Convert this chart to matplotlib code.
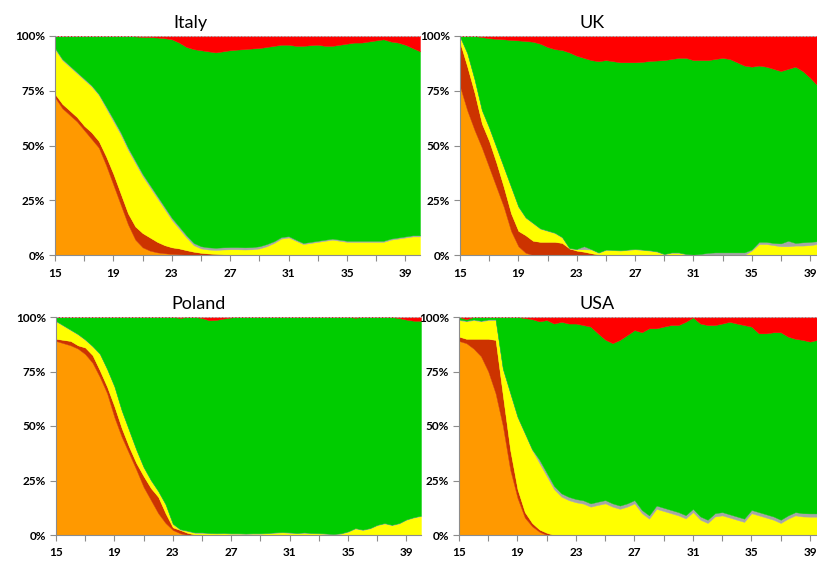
import numpy as np
import matplotlib
matplotlib.use("Agg")
import matplotlib.pyplot as plt

plt.rcParams['font.family'] = ['Lato', 'DejaVu Sans']

# age axis (half-year steps)
ages = np.arange(15, 40.01, 0.5)

# upper edge (cumulative %) of each band, bottom to top:
# orange, dark red, yellow, grey, green; red fills up to 100%
italy_orange = [72, 67, 64, 61, 57, 53, 49, 41, 32, 23, 14, 7, 3.5, 2, 1.2, 0.8, 0.5, 0.3, 0.2, 0.1,
                0, 0, 0, 0, 0, 0, 0, 0, 0, 0, 0, 0, 0, 0, 0, 0, 0, 0, 0, 0, 0, 0, 0, 0, 0, 0, 0, 0, 0, 0, 0]
italy_darkred = [73.5, 69, 66, 63, 59, 56, 52, 45, 37, 28, 19, 13, 10, 8, 6, 4.5, 3.5, 3, 2.2, 1.5,
                 1, 0.7, 0.5, 0.3, 0.1, 0, 0, 0, 0, 0, 0, 0, 0, 0, 0, 0, 0, 0, 0, 0, 0, 0, 0, 0, 0, 0, 0, 0, 0, 0, 0]
italy_yellow = [94, 89, 86, 83, 80, 77, 73, 67, 61, 55, 48, 42, 36, 31, 26, 21, 16, 12, 8, 4.5,
                3, 2.5, 2.3, 2.5, 2.6, 2.6, 2.5, 2.6, 3, 4, 5.5, 7.5, 8, 6.5, 5, 5.5, 6, 6.5, 7, 6.5,
                6, 6, 6, 6, 6, 6, 7, 7.5, 8, 8.5, 8.5]
italy_grey = [94.5, 89.5, 86.5, 83.5, 80.5, 77.5, 73.5, 67.8, 62, 56, 49, 43, 37, 32, 27, 22, 17, 13, 9, 5.5,
              4, 3.5, 3.3, 3.5, 3.6, 3.6, 3.5, 3.6, 4, 5, 6.3, 8.2, 8.6, 7, 5.5, 6, 6.5, 7, 7.5, 7,
              6.5, 6.5, 6.5, 6.5, 6.5, 6.5, 7.5, 8, 8.5, 9, 9]
italy_green = [100, 100, 100, 100, 100, 100, 100, 100, 100, 100, 100, 99.8, 99.6, 99.5, 99.3, 99, 98.5, 97, 95, 94,
               93.5, 93, 92.5, 93, 93.5, 93.8, 94, 94.3, 94.5, 95, 95.5, 96, 96, 95.5, 95.5, 95.8, 96, 95.5, 95.5, 96,
               96.5, 97, 97, 97.5, 98, 98.5, 97.5, 97, 96, 94.5, 93]

uk_orange = [77, 66, 57, 49, 40, 31, 22, 11, 4, 1, 0, 0, 0, 0, 0, 0, 0, 0, 0, 0,
             0, 0, 0, 0, 0, 0, 0, 0, 0, 0, 0, 0, 0, 0, 0, 0, 0, 0, 0, 0, 0, 0, 0, 0, 0, 0, 0, 0, 0, 0, 0]
uk_darkred = [97, 86, 74, 60, 52, 42, 31, 19, 11, 9, 6.5, 6, 6, 6, 5.5, 3, 2, 1.5, 0.8, 0.2,
              0, 0, 0, 0, 0, 0, 0, 0, 0, 0, 0, 0, 0, 0, 0, 0, 0, 0, 0, 0, 0, 0, 0, 0, 0, 0, 0, 0, 0, 0, 0]
uk_yellow = [99.5, 92, 80, 66, 58, 49, 40, 31, 22, 17, 14.5, 12, 11, 10, 8, 3, 2.6, 2.6, 2.5, 1,
             2.3, 2.2, 2, 2.3, 2.6, 2.3, 2, 1.5, 0.3, 1, 1, 0.3, 0, 0, 0, 0, 0, 0, 0, 0,
             2, 5, 5, 4.5, 4, 4, 4.3, 4.3, 4.5, 5, 5]
uk_grey = [99.7, 92.2, 80.2, 66.2, 58.2, 49.2, 40.2, 31.2, 22.2, 17.2, 14.7, 12.2, 11.2, 10.2, 8.2, 3.2, 2.8, 4, 2.7, 1.2,
           2.5, 2.4, 2.2, 2.5, 2.8, 2.5, 2.2, 1.7, 0.5, 1.2, 1.2, 0.5, 0.2, 0.5, 1, 1.2, 1.2, 1.2, 1.2, 1.2,
           2.5, 6, 6, 5.5, 5.3, 6.5, 5.5, 5.8, 6, 6.3, 6.3]
uk_green = [100, 100, 100, 99.5, 99, 98.7, 98.5, 98.2, 98, 97.7, 97.4, 96.5, 95, 94, 93.6, 92.5, 91, 90, 89, 88.5,
            89, 88.5, 88, 88, 88, 88.2, 88.6, 88.8, 89, 89.5, 90, 90, 89, 89, 89, 89.5, 90, 89.5, 88, 86.5,
            86, 86.5, 86, 85, 84, 85, 86, 84, 81, 77.5, 77]

poland_orange = [89, 88, 87, 85.5, 83, 79, 72.5, 65, 54, 45, 37.5, 30, 22, 16, 10, 5.5, 2.3, 0.8, 0, 0,
                 0, 0, 0, 0, 0, 0, 0, 0, 0, 0, 0, 0, 0, 0, 0, 0, 0, 0, 0, 0, 0, 0, 0, 0, 0, 0, 0, 0, 0, 0, 0]
poland_darkred = [90, 89.5, 89, 87, 86, 82.5, 75.5, 68, 59, 49, 40.5, 33, 27, 21.5, 17.5, 10, 3.5, 2.3, 1, 0.2,
                  0, 0, 0, 0, 0, 0, 0, 0, 0, 0, 0, 0, 0, 0, 0, 0, 0, 0, 0, 0, 0, 0, 0, 0, 0, 0, 0, 0, 0, 0, 0]
poland_yellow = [98, 96, 94, 92, 89.5, 86.5, 83, 76, 68, 57, 48, 39, 31, 25, 20, 14, 5, 2.5, 1.8, 1,
                 1, 0.8, 0.7, 0.8, 0.6, 0.6, 0.5, 0.6, 0.6, 0.8, 1, 1.2, 1, 0.8, 1, 0.8, 0.7, 0.5, 0.3, 0.6,
                 1.5, 3, 2.3, 3, 4.5, 5.3, 4.5, 5.3, 7, 8, 8.7]
poland_grey = [98.2, 96.2, 94.2, 92.2, 89.7, 86.7, 83.2, 76.2, 68.2, 57.2, 48.2, 39.2, 31.2, 25.2, 20.2, 14.2, 5.2, 2.7, 2, 1.2,
               1.2, 1, 0.9, 1, 0.8, 0.8, 0.7, 0.8, 0.8, 1, 1.2, 1.4, 1.2, 1, 1.2, 1, 0.9, 0.7, 0.5, 0.8,
               1.7, 3.2, 2.5, 3.2, 4.7, 5.5, 4.7, 5.5, 7.2, 8.2, 8.9]
poland_green = [100, 100, 100, 100, 100, 100, 100, 100, 100, 100, 100, 100, 100, 100, 100, 100, 100, 99.6, 100, 100,
                99.5, 98.5, 98.7, 99.3, 99.8, 100, 100, 100, 100, 100, 100, 100, 100, 100, 100, 100, 100, 100, 100, 100,
                100, 99.7, 100, 100, 100, 100, 100, 99.5, 98.8, 98.3, 98.3]

usa_orange = [89, 88, 85.5, 82, 75, 65, 50, 30, 17, 8, 4, 1.5, 0, 0, 0, 0, 0, 0, 0, 0,
              0, 0, 0, 0, 0, 0, 0, 0, 0, 0, 0, 0, 0, 0, 0, 0, 0, 0, 0, 0, 0, 0, 0, 0, 0, 0, 0, 0, 0, 0, 0]
usa_darkred = [91, 90, 90, 90, 90, 89.5, 64, 39, 21, 10.5, 5.5, 2.5, 1, 0, 0, 0, 0, 0, 0, 0,
               0, 0, 0, 0, 0, 0, 0, 0, 0, 0, 0, 0, 0, 0, 0, 0, 0, 0, 0, 0, 0, 0, 0, 0, 0, 0, 0, 0, 0, 0, 0]
usa_yellow = [98.6, 98, 98.6, 98, 98.6, 98.6, 76, 65, 54, 46.5, 39, 33, 27, 21, 17.6, 16, 15, 14.4, 13, 13.8,
              14.5, 13, 12, 13, 14.5, 10, 7.5, 12, 11, 10, 9, 7.6, 10.5, 7, 5.5, 8.5, 9, 8, 7, 6,
              10, 9, 8, 7, 5.5, 7.5, 9, 8.5, 8.4, 8.4, 8.4]
usa_grey = [98.9, 98.3, 98.9, 98.3, 98.9, 98.9, 76.3, 65.3, 54.3, 46.8, 39.3, 34.5, 28.5, 22.5, 19.1, 17.5, 16.5, 15.9, 14.5, 15.3,
            16, 14.5, 13.5, 14.5, 16, 11.5, 9, 13.5, 12.5, 11.5, 10.5, 9.1, 12, 8.5, 7, 10, 10.5, 9.5, 8.5, 7.5,
            11.5, 10.5, 9.5, 8.5, 7, 9, 10.5, 10, 9.9, 9.9, 9.9]
usa_green = [100, 99, 100, 100, 100, 100, 100, 100, 100, 99.5, 99, 98, 98.6, 97, 97.8, 97, 97, 96.3, 95.6, 92.5,
             89.6, 88, 89.5, 91.7, 94, 93, 94.8, 94.8, 95.6, 96.3, 96.3, 97.8, 99.8, 97, 96.3, 96.3, 97, 97.8, 97, 96.3,
             95.6, 92.5, 92.5, 93, 93, 91, 90, 89.5, 88.7, 89.5, 89.5]

band_colors = ['#FF9900', '#CC3300', '#FFFF00', '#A6A6A6', '#00CC00', '#FF0000']

panels = [
    ("Italy", [italy_orange, italy_darkred, italy_yellow, italy_grey, italy_green],
     [55, 36, 420, 255], 40.0, 0.37),
    ("UK", [uk_orange, uk_darkred, uk_yellow, uk_grey, uk_green],
     [460, 36, 817, 255], 39.48, 0.37),
    ("Poland", [poland_orange, poland_darkred, poland_yellow, poland_grey, poland_green],
     [56, 317, 421, 535], 40.0, 0.39),
    ("USA", [usa_orange, usa_darkred, usa_yellow, usa_grey, usa_green],
     [459, 317, 817, 535], 39.48, 0.385),
]

W, H = 817, 563
fig = plt.figure(figsize=(W / 100, H / 100), dpi=100)

for title, edges, box, xmax, tx in panels:
    x0, y0, x1, y1 = box
    ax = fig.add_axes([x0 / W, (H - y1) / H, (x1 - x0) / W, (y1 - y0) / H])
    lower = np.zeros(len(ages))
    for edge, col in zip(edges + [[100] * len(ages)], band_colors):
        upper = np.array(edge, dtype=float)
        ax.fill_between(ages, lower, upper, color=col, lw=0.3, edgecolor=col)
        lower = upper
    ax.axhline(100, color='#B0B0B0', lw=0.8, ls=(0, (2, 1)))
    ax.set_xlim(15, xmax)
    ax.set_ylim(0, 100)
    ax.set_xticks(range(15, 40, 2))
    ax.set_xticklabels([str(v) if (v - 15) % 4 == 0 else '' for v in range(15, 40, 2)])
    ax.set_yticks([0, 25, 50, 75, 100])
    ax.set_yticklabels(['0%', '25%', '50%', '75%', '100%'])
    for s in ['top', 'right']:
        ax.spines[s].set_visible(False)
    for s in ['left', 'bottom']:
        ax.spines[s].set_color('#8C8C8C')
        ax.spines[s].set_linewidth(0.8)
    ax.tick_params(axis='both', colors='#8C8C8C', labelcolor='black', length=4, width=0.8,
                   labelsize=8.5)
    ax.tick_params(axis='x', pad=5)
    ax.tick_params(axis='y', pad=3)
    for lab in ax.get_xticklabels() + ax.get_yticklabels():
        lab.set_fontweight('bold')
    ax.set_title(title, x=tx, fontsize=13, pad=6)

fig.savefig("out.png", dpi=100)
